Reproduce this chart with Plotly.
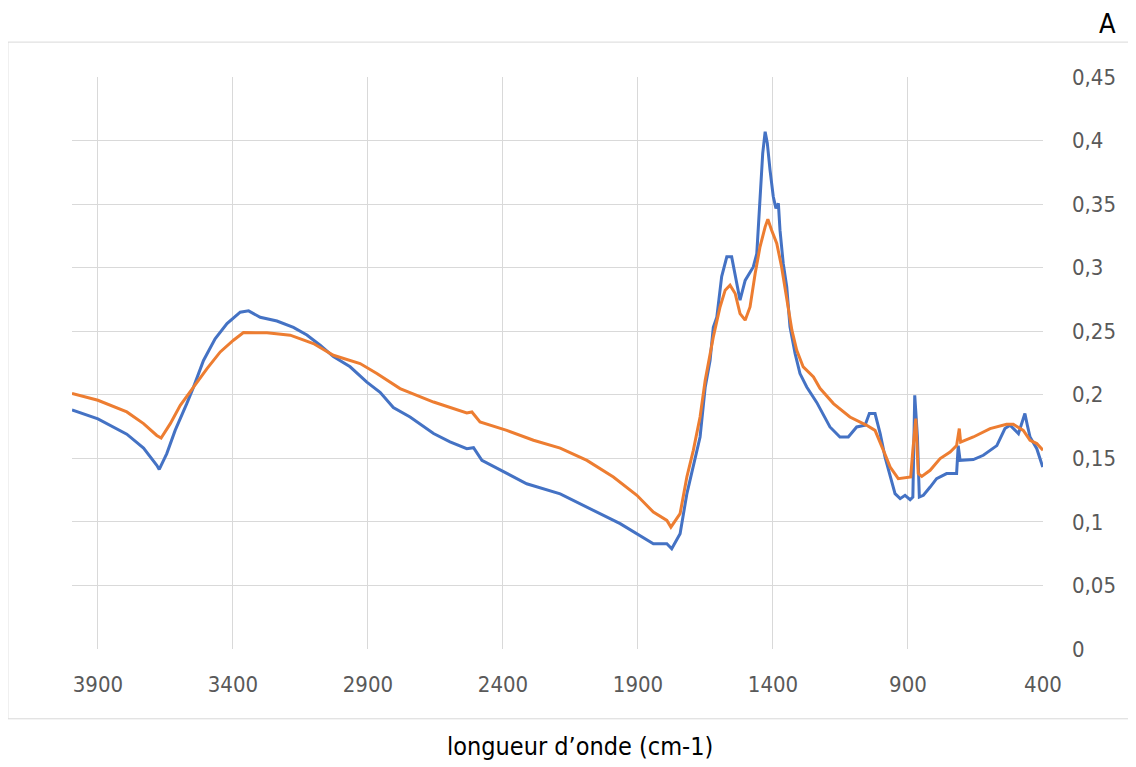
import plotly.graph_objects as go

# Wavenumbers (cm-1) and absorbance
blue_wn = [3996, 3900, 3793, 3731, 3682, 3673, 3645, 3614, 3571, 3546, 3509, 3466, 3422, 3373, 3342,
           3299, 3237, 3176, 3126, 3077, 3028, 2966, 2904, 2855, 2806, 2744, 2657, 2596, 2534, 2509,
           2478, 2410, 2312, 2188, 2089, 1966, 1843, 1793, 1775, 1744, 1719, 1695, 1670, 1651, 1633,
           1621, 1608, 1590, 1571, 1553, 1540, 1522, 1503, 1485, 1473, 1460, 1448, 1438, 1429, 1421,
           1411, 1399, 1389, 1380, 1374, 1362, 1349, 1337, 1318, 1300, 1275, 1238, 1189, 1152, 1121,
           1090, 1059, 1043, 1022, 1003, 985, 966, 948, 929, 911, 892, 882, 875, 865, 858, 843, 818,
           794, 757, 720, 714, 707, 658, 621, 571, 541, 522, 491, 475, 467, 458, 448, 423, 401]
blue_abs = [0.188, 0.181, 0.169, 0.158, 0.1445, 0.1413, 0.1537, 0.172, 0.193, 0.206, 0.227, 0.244,
            0.256, 0.265, 0.266, 0.261, 0.258, 0.253, 0.247, 0.239, 0.230, 0.222, 0.210, 0.202, 0.190,
            0.1825, 0.1695, 0.163, 0.1576, 0.1584, 0.1484, 0.1406, 0.130, 0.122, 0.1117, 0.0986,
            0.0828, 0.0828, 0.0789, 0.0907, 0.122, 0.143, 0.1668, 0.206, 0.227, 0.253, 0.261, 0.293,
            0.3085, 0.3085, 0.2954, 0.2744, 0.290, 0.2967, 0.3006, 0.311, 0.358, 0.390, 0.407, 0.398,
            0.377, 0.356, 0.3466, 0.3506, 0.3295, 0.3033, 0.2849, 0.2534, 0.2324, 0.2167, 0.2061,
            0.194, 0.1747, 0.1668, 0.1668, 0.1747, 0.176, 0.1852, 0.1852, 0.1694, 0.151, 0.1353,
            0.1222, 0.1183, 0.1209, 0.1175, 0.1195, 0.1996, 0.1668, 0.1195, 0.1209, 0.1274, 0.134,
            0.138, 0.138, 0.160, 0.1484, 0.149, 0.1524, 0.160, 0.1734, 0.176, 0.1694, 0.180, 0.1852,
            0.176, 0.1668, 0.1576, 0.1431]

orange_wn = [3996, 3900, 3793, 3731, 3682, 3666, 3632, 3595, 3546, 3496, 3447, 3398, 3361, 3274,
             3188, 3102, 3028, 2929, 2867, 2781, 2657, 2534, 2515, 2485, 2386, 2287, 2188, 2089,
             1991, 1904, 1843, 1793, 1778, 1744, 1719, 1695, 1670, 1651, 1621, 1596, 1577, 1559,
             1540, 1522, 1503, 1485, 1466, 1448, 1429, 1419, 1405, 1386, 1368, 1349, 1330, 1312,
             1288, 1250, 1226, 1176, 1115, 1053, 1022, 991, 966, 936, 890, 882, 871, 862, 849, 818,
             781, 744, 720, 710, 705, 658, 596, 535, 510, 473, 448, 423, 400]
orange_abs = [0.201, 0.1957, 0.1865, 0.1773, 0.168, 0.166, 0.1773, 0.1917, 0.206, 0.2206, 0.2337,
              0.2429, 0.249, 0.2487, 0.2469, 0.2403, 0.2311, 0.2246, 0.2167, 0.2049, 0.1943, 0.1857,
              0.1865, 0.1786, 0.172, 0.1642, 0.1581, 0.1484, 0.1353, 0.1209, 0.1077, 0.1012, 0.0959,
              0.1065, 0.1353, 0.1563, 0.1825, 0.2114, 0.2455, 0.2691, 0.2823, 0.2862, 0.2797, 0.2639,
              0.2587, 0.2691, 0.2954, 0.3164, 0.3321, 0.338, 0.3295, 0.319, 0.3006, 0.2744, 0.2508,
              0.235, 0.2219, 0.214, 0.2051, 0.1931, 0.1825, 0.176, 0.172, 0.1563, 0.1431, 0.134,
              0.1353, 0.1563, 0.1813, 0.138, 0.1358, 0.1406, 0.1498, 0.155, 0.160, 0.1734, 0.1628,
              0.1668, 0.1734, 0.1768, 0.1768, 0.172, 0.1642, 0.1616, 0.1563]

x_ticks = [3900, 3400, 2900, 2400, 1900, 1400, 900, 400]
y_ticks = [0, 0.05, 0.1, 0.15, 0.2, 0.25, 0.3, 0.35, 0.4, 0.45]
y_labels = ["0", "0,05", "0,1", "0,15", "0,2", "0,25", "0,3", "0,35", "0,4", "0,45"]

FONT = "Liberation Sans Narrow, DejaVu Sans Condensed, Arial Narrow, sans-serif"
GRID = "#d9d9d9"
TXT = "#595959"

fig = go.Figure()
fig.add_trace(go.Scatter(x=blue_wn, y=blue_abs, mode="lines",
                         line=dict(color="#4472C4", width=3), showlegend=False))
fig.add_trace(go.Scatter(x=orange_wn, y=orange_abs, mode="lines",
                         line=dict(color="#ED7D31", width=3), showlegend=False))

fig.update_layout(
    width=1136, height=767,
    margin=dict(l=64, r=101, t=69, b=126),
    paper_bgcolor="white", plot_bgcolor="white",
    font=dict(family=FONT, color=TXT, size=22),
    xaxis=dict(range=[3996, 400], tickvals=x_ticks, ticktext=[str(v) for v in x_ticks],
               showgrid=True, gridcolor=GRID, gridwidth=1, zeroline=False,
               showline=False, ticks="", ticklabelstandoff=20,
               tickfont=dict(family=FONT, size=22, color=TXT)),
    yaxis=dict(range=[0, 0.45], side="right", tickvals=y_ticks, ticktext=y_labels,
               showgrid=True, gridcolor=GRID, gridwidth=1, zeroline=False,
               showline=False, ticks="", ticklabelstandoff=28,
               tickfont=dict(family=FONT, size=22, color=TXT)),
    shapes=[dict(type="rect", xref="paper", yref="paper",
                 x0=-0.066, x1=1.2, y0=-0.122, y1=1.061,
                 line=dict(color=GRID, width=1), layer="below")],
    annotations=[
        dict(text="A", xref="paper", yref="paper", x=1.066, y=1.093, showarrow=False,
             font=dict(family=FONT, size=27, color="#000000"), xanchor="center", yanchor="middle"),
        dict(text="longueur d\u2019onde (cm-1)", xref="paper", yref="paper", x=0.523, y=-0.171,
             showarrow=False, font=dict(family=FONT, size=25, color="#000000"),
             xanchor="center", yanchor="middle"),
    ],
)

fig.write_html("out.html")
